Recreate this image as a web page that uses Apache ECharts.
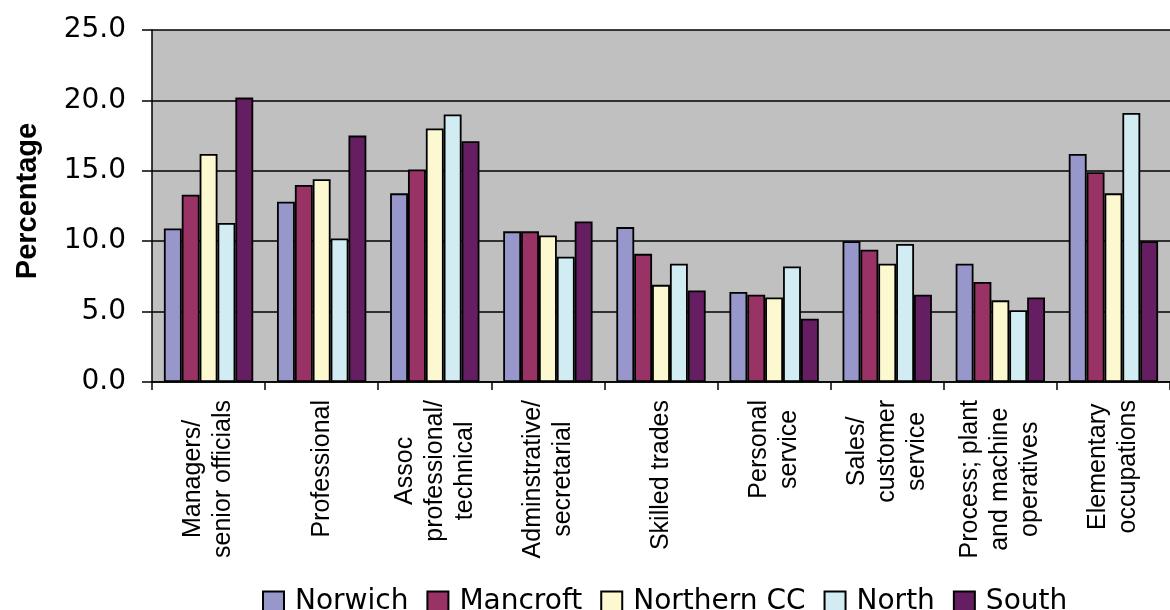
<!DOCTYPE html>
<html>
<head>
<meta charset="utf-8">
<script src="https://cdn.jsdelivr.net/npm/echarts@6/dist/echarts.min.js"></script>
<style>
html,body{margin:0;padding:0;background:#fff;}
#chart{width:1170px;height:610px;}
</style>
</head>
<body>
<div id="chart"></div>
<script>
const categories = [
  "Managers/\nsenior officials",
  "Professional",
  "Assoc\nprofessional/\ntechnical",
  "Adminstrative/\nsecretarial",
  "Skilled trades",
  "Personal\nservice",
  "Sales/\ncustomer\nservice",
  "Process; plant\nand machine\noperatives",
  "Elementary\noccupations"
];
const seriesNames = ["Norwich", "Mancroft", "Northern CC", "North", "South"];
const norwich    = [10.9, 12.8, 13.4, 10.7, 11.0, 6.4, 10.0, 8.4, 16.2];
const mancroft   = [13.3, 14.0, 15.1, 10.7, 9.1, 6.2, 9.4, 7.1, 14.9];
const northernCC = [16.2, 14.4, 18.0, 10.4, 6.9, 6.0, 8.4, 5.8, 13.4];
const north      = [11.3, 10.2, 19.0, 8.9, 8.4, 8.2, 9.8, 5.1, 19.1];
const south      = [20.2, 17.5, 17.1, 11.4, 6.5, 4.5, 6.2, 6.0, 10.0];
const yTicks = [0, 5, 25];
const colors = ["#9797CB", "#993366", "#FCF9D0", "#D2ECF4", "#661E62"];

const seriesData = [norwich, mancroft, northernCC, north, south];
const chart = echarts.init(document.getElementById('chart'), null, {renderer: 'canvas'});
const FONT = "'Liberation Sans', Arial, sans-serif";
const option = {
  animation: false,
  color: colors,
  grid: {
    left: 152, top: 30, bottom: 228, right: -10,
    show: true, backgroundColor: '#C0C0C0', borderWidth: 0,
    containLabel: false
  },
  legend: {
    left: 262, top: 588, padding: 0,
    itemWidth: 21, itemHeight: 21, itemGap: 18,
    icon: 'rect',
    textStyle: {fontFamily: "'DejaVu Sans', sans-serif", fontSize: 28, color: '#000', padding: [0, 0, 0, 6]},
    data: seriesNames
  },
  xAxis: {
    type: 'category',
    data: categories,
    boundaryGap: true,
    axisLine: {show: true, lineStyle: {color: '#000', width: 1.5}},
    axisTick: {show: true, length: 8, interval: 0, lineStyle: {color: '#000', width: 1.5}},
    axisLabel: {
      interval: 0, rotate: 90, margin: 18, color: '#000',
      fontFamily: FONT, fontSize: 25, lineHeight: 30,
      formatter: function (v) { return v.split('\n').map(l => '{c|' + l + '}').join('\n'); },
      rich: {c: {align: 'center', fontFamily: FONT, fontSize: 25, lineHeight: 30, color: '#000'}}
    },
    splitLine: {show: false}
  },
  yAxis: {
    type: 'value',
    min: yTicks[0], max: yTicks[2], interval: yTicks[1],
    name: 'Percentage',
    nameLocation: 'middle',
    nameGap: 110,
    nameRotate: 90,
    nameTextStyle: {fontFamily: FONT, fontSize: 29, fontWeight: 'bold', color: '#000', padding: [0, 0, 0, 10]},
    axisLine: {show: true, lineStyle: {color: '#000', width: 1.5}},
    axisTick: {show: true, length: 10, lineStyle: {color: '#000', width: 1.5}},
    axisLabel: {
      margin: 26, color: '#000',
      fontFamily: "'DejaVu Sans', sans-serif", fontSize: 28,
      formatter: v => v.toFixed(1)
    },
    splitLine: {show: true, lineStyle: {color: '#000', width: 1.5}}
  },
  series: seriesNames.map((n, i) => ({
    name: n,
    type: 'bar',
    data: seriesData[i],
    barGap: '0%',
    barCategoryGap: '21%',
    itemStyle: {color: colors[i], borderColor: '#000', borderWidth: 1.8}
  }))
};
chart.setOption(option);
</script>
</body>
</html>
